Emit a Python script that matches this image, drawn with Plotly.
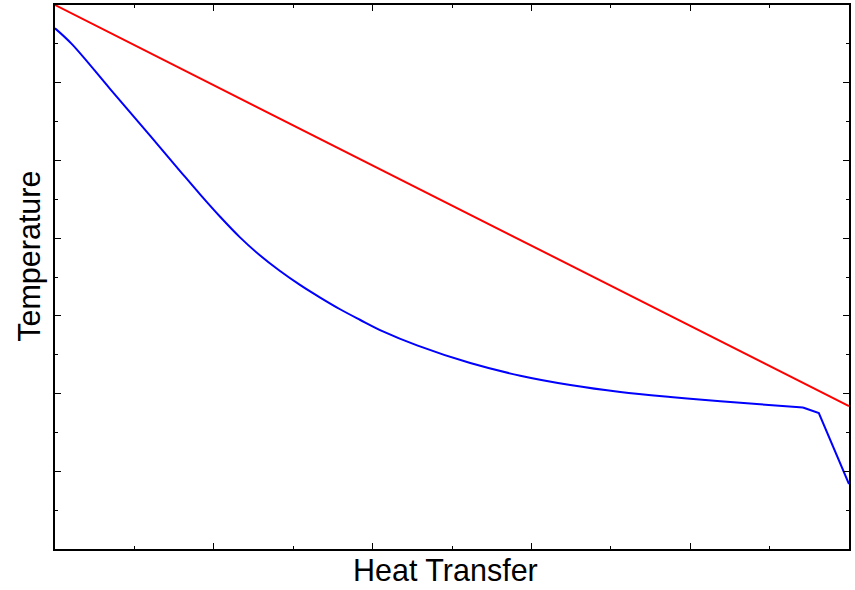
import plotly.graph_objects as go

# Data (x: 0..10, y: 0..14)
hot_x = [0, 10]
hot_y = [14.0, 3.68]

# smooth part of the cold curve
cold_x = [0, 0.21, 0.69, 1.2, 1.57, 1.83, 2.08, 2.33, 2.58, 2.83, 3.09, 3.34,
          3.59, 3.84, 4.13, 4.56, 5.23, 5.86, 6.49, 7.12, 7.75, 8.38, 8.88,
          9.42]
cold_y = [13.4, 13.0, 11.85, 10.63, 9.74, 9.12, 8.55, 8.02, 7.56, 7.16, 6.79, 6.47,
          6.17, 5.9, 5.6, 5.24, 4.785, 4.46, 4.22, 4.04, 3.91, 3.8, 3.725,
          3.64]
# sharp end of the cold curve
cold_end_x = [9.42, 9.62, 10]
cold_end_y = [3.64, 3.5, 1.67]

x_title = "Heat Transfer"
y_title = "Temperature"

fig = go.Figure()
fig.add_trace(go.Scatter(x=hot_x, y=hot_y, mode="lines",
                         line=dict(color="#ff0000", width=2), showlegend=False))
fig.add_trace(go.Scatter(x=cold_x, y=cold_y, mode="lines",
                         line=dict(color="#0000ff", width=2, shape="spline", smoothing=1.0),
                         showlegend=False))
fig.add_trace(go.Scatter(x=cold_end_x, y=cold_end_y, mode="lines",
                         line=dict(color="#0000ff", width=2), showlegend=False))

axis_common = dict(
    showgrid=False, zeroline=False, showline=True, linecolor="black", linewidth=1.5,
    mirror="ticks", ticks="inside", ticklen=6, tickwidth=1, tickcolor="black",
    showticklabels=False,
    minor=dict(ticks="inside", ticklen=3, tickwidth=1, tickcolor="black", dtick=1, showgrid=False),
)

fig.update_xaxes(range=[0, 10], dtick=2, tick0=0, **axis_common)
fig.update_yaxes(range=[0, 14], dtick=2, tick0=0, **axis_common)

title_font = dict(size=30.5, color="black", family="Liberation Sans, Arial, sans-serif")
fig.add_annotation(text=x_title, xref="paper", yref="paper", x=0.4918, y=-0.0392,
                   xanchor="center", yanchor="middle", showarrow=False, font=title_font)
fig.add_annotation(text=y_title, xref="paper", yref="paper", x=-0.0324, y=0.5377,
                   xanchor="center", yanchor="middle", textangle=-90, showarrow=False,
                   font=title_font)

fig.update_layout(
    width=855, height=590,
    margin=dict(l=55, r=6, t=5, b=41, autoexpand=False),
    paper_bgcolor="white", plot_bgcolor="white",
    font=dict(family="Liberation Sans, Arial, sans-serif", color="black"),
)

fig.write_html("out.html")
